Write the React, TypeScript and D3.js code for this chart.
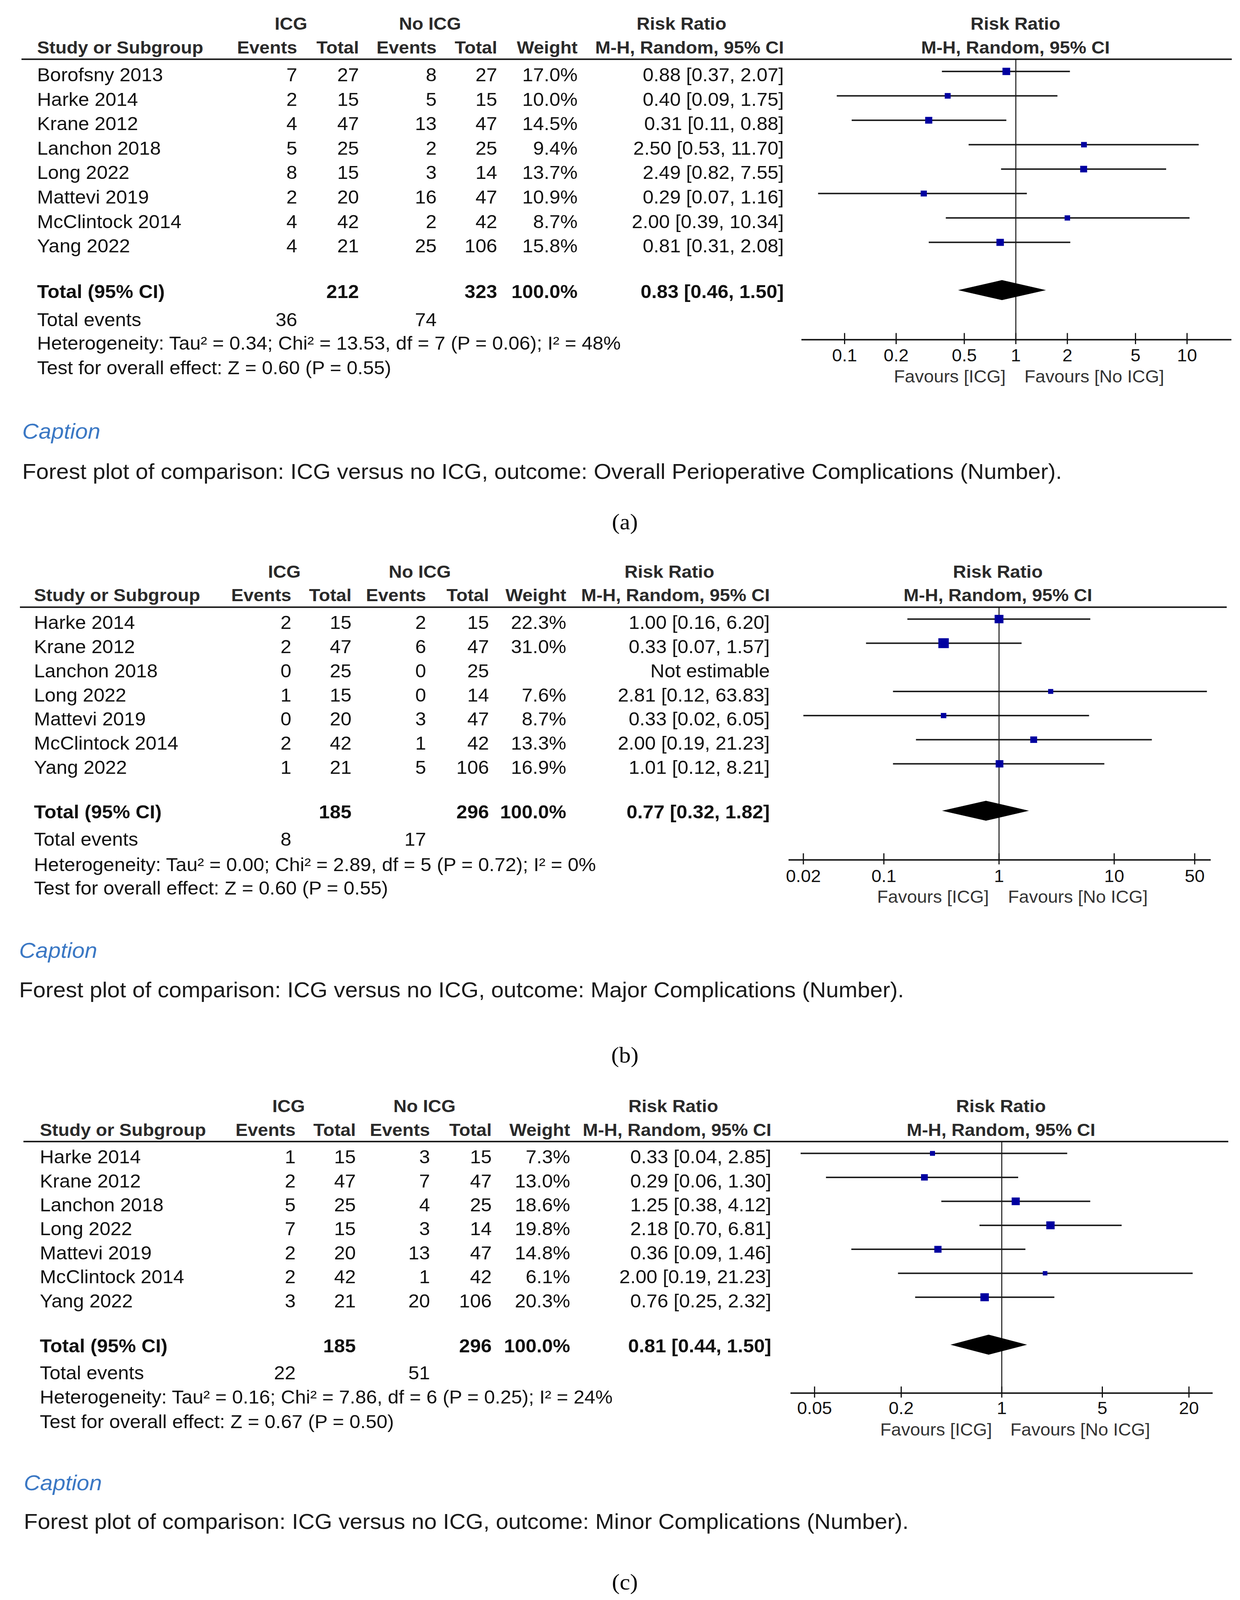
import React from 'react';
import * as d3 from 'd3';

// ---------- Panel (a): Overall perioperative complications ----------
const studiesA = ['Borofsny 2013', 'Harke 2014', 'Krane 2012', 'Lanchon 2018', 'Long 2022', 'Mattevi 2019', 'McClintock 2014', 'Yang 2022'];
const icgEventsA = [7, 2, 4, 5, 8, 2, 4, 4];
const icgTotalsA = [27, 15, 47, 25, 15, 20, 42, 21];
const noEventsA = [8, 5, 13, 2, 3, 16, 2, 25];
const noTotalsA = [27, 15, 47, 25, 14, 47, 42, 106];
const weightsA = [17.0, 10.0, 14.5, 9.4, 13.7, 10.9, 8.7, 15.8];
const rrA = [0.88, 0.40, 0.31, 2.50, 2.49, 0.29, 2.00, 0.81];
const lowA = [0.37, 0.09, 0.11, 0.53, 0.82, 0.07, 0.39, 0.31];
const highA = [2.07, 1.75, 0.88, 11.70, 7.55, 1.16, 10.34, 2.08];
const totalA = { icgTotal: 212, noTotal: 323, rr: 0.83, low: 0.46, high: 1.50, icgEvents: 36, noEvents: 74 };
const hetA = 'Heterogeneity: Tau² = 0.34; Chi² = 13.53, df = 7 (P = 0.06); I² = 48%';
const testA = 'Test for overall effect: Z = 0.60 (P = 0.55)';
const ticksA = [0.1, 0.2, 0.5, 1, 2, 5, 10];
const domainA = [0.1, 10];
const captionA = 'Forest plot of comparison: ICG versus no ICG, outcome: Overall Perioperative Complications (Number).';

// ---------- Panel (b): Major complications ----------
const studiesB = ['Harke 2014', 'Krane 2012', 'Lanchon 2018', 'Long 2022', 'Mattevi 2019', 'McClintock 2014', 'Yang 2022'];
const icgEventsB = [2, 2, 0, 1, 0, 2, 1];
const icgTotalsB = [15, 47, 25, 15, 20, 42, 21];
const noEventsB = [2, 6, 0, 0, 3, 1, 5];
const noTotalsB = [15, 47, 25, 14, 47, 42, 106];
const weightsB = [22.3, 31.0, null, 7.6, 8.7, 13.3, 16.9];
const rrB = [1.00, 0.33, null, 2.81, 0.33, 2.00, 1.01];
const lowB = [0.16, 0.07, null, 0.12, 0.02, 0.19, 0.12];
const highB = [6.20, 1.57, null, 63.83, 6.05, 21.23, 8.21];
const totalB = { icgTotal: 185, noTotal: 296, rr: 0.77, low: 0.32, high: 1.82, icgEvents: 8, noEvents: 17 };
const hetB = 'Heterogeneity: Tau² = 0.00; Chi² = 2.89, df = 5 (P = 0.72); I² = 0%';
const testB = 'Test for overall effect: Z = 0.60 (P = 0.55)';
const ticksB = [0.02, 0.1, 1, 10, 50];
const domainB = [0.02, 50];
const captionB = 'Forest plot of comparison: ICG versus no ICG, outcome: Major Complications (Number).';

// ---------- Panel (c): Minor complications ----------
const studiesC = ['Harke 2014', 'Krane 2012', 'Lanchon 2018', 'Long 2022', 'Mattevi 2019', 'McClintock 2014', 'Yang 2022'];
const icgEventsC = [1, 2, 5, 7, 2, 2, 3];
const icgTotalsC = [15, 47, 25, 15, 20, 42, 21];
const noEventsC = [3, 7, 4, 3, 13, 1, 20];
const noTotalsC = [15, 47, 25, 14, 47, 42, 106];
const weightsC = [7.3, 13.0, 18.6, 19.8, 14.8, 6.1, 20.3];
const rrC = [0.33, 0.29, 1.25, 2.18, 0.36, 2.00, 0.76];
const lowC = [0.04, 0.06, 0.38, 0.70, 0.09, 0.19, 0.25];
const highC = [2.85, 1.30, 4.12, 6.81, 1.46, 21.23, 2.32];
const totalC = { icgTotal: 185, noTotal: 296, rr: 0.81, low: 0.44, high: 1.50, icgEvents: 22, noEvents: 51 };
const hetC = 'Heterogeneity: Tau² = 0.16; Chi² = 7.86, df = 6 (P = 0.25); I² = 24%';
const testC = 'Test for overall effect: Z = 0.67 (P = 0.50)';
const ticksC = [0.05, 0.2, 1, 5, 20];
const domainC = [0.05, 20];
const captionC = 'Forest plot of comparison: ICG versus no ICG, outcome: Minor Complications (Number).';

const FONT = "'Liberation Sans', Arial, Helvetica, sans-serif";
const SERIF = "'Liberation Serif', 'Times New Roman', serif";
const HDR = '#2a2a2a';
const TXT = '#111';
const BLUE = '#0000a0';

const sizeScale = d3.scaleSqrt().domain([0, 100]).range([0, 48]);

function fmtCI(rr: number | null, lo: number | null, hi: number | null) {
  if (rr == null || lo == null || hi == null) return 'Not estimable';
  return `${rr.toFixed(2)} [${lo.toFixed(2)}, ${hi.toFixed(2)}]`;
}

function Panel({ d, L }: any) {
  const x = d3.scaleLog().domain(d.domain).range(L.range);
  const rowY = (i: number) => L.rowY0 + i * L.step;
  const fs = 50;
  const hf = 47;
  const cols = L.cols;
  const dy = L.totalY - 21;
  return (
    <g>
      <g fontFamily={FONT} fontWeight="bold" fontSize={hf} fill={HDR}>
        <text x={L.icgC} y={L.h1} textAnchor="middle">ICG</text>
        <text x={L.noC} y={L.h1} textAnchor="middle">No ICG</text>
        <text x={L.rrC} y={L.h1} textAnchor="middle">Risk Ratio</text>
        <text x={L.plotC} y={L.h1} textAnchor="middle">Risk Ratio</text>
        <text x={L.studyX} y={L.h2}>Study or Subgroup</text>
        <text x={cols[0]} y={L.h2} textAnchor="end">Events</text>
        <text x={cols[1]} y={L.h2} textAnchor="end">Total</text>
        <text x={cols[2]} y={L.h2} textAnchor="end">Events</text>
        <text x={cols[3]} y={L.h2} textAnchor="end">Total</text>
        <text x={cols[4]} y={L.h2} textAnchor="end">Weight</text>
        <text x={cols[5]} y={L.h2} textAnchor="end">M-H, Random, 95% CI</text>
        <text x={L.plotC} y={L.h2} textAnchor="middle">M-H, Random, 95% CI</text>
      </g>
      <line x1={L.ruleX0} x2={L.ruleX1} y1={L.ruleY} y2={L.ruleY} stroke="#111" strokeWidth={4} />
      <g fontFamily={FONT} fontSize={fs} fill={TXT}>
        {d.studies.map((s: string, i: number) => (
          <g key={s}>
            <text x={L.studyX} y={rowY(i)}>{s}</text>
            <text x={cols[0]} y={rowY(i)} textAnchor="end">{d.icgEvents[i]}</text>
            <text x={cols[1]} y={rowY(i)} textAnchor="end">{d.icgTotals[i]}</text>
            <text x={cols[2]} y={rowY(i)} textAnchor="end">{d.noEvents[i]}</text>
            <text x={cols[3]} y={rowY(i)} textAnchor="end">{d.noTotals[i]}</text>
            <text x={cols[4]} y={rowY(i)} textAnchor="end">{d.weights[i] == null ? '' : `${d.weights[i].toFixed(1)}%`}</text>
            <text x={cols[5]} y={rowY(i)} textAnchor="end">{fmtCI(d.rr[i], d.low[i], d.high[i])}</text>
          </g>
        ))}
        <g fontWeight="bold">
          <text x={L.studyX} y={L.totalY}>Total (95% CI)</text>
          <text x={cols[1]} y={L.totalY} textAnchor="end">{d.total.icgTotal}</text>
          <text x={cols[3]} y={L.totalY} textAnchor="end">{d.total.noTotal}</text>
          <text x={cols[4]} y={L.totalY} textAnchor="end">100.0%</text>
          <text x={cols[5]} y={L.totalY} textAnchor="end">{fmtCI(d.total.rr, d.total.low, d.total.high)}</text>
        </g>
        <text x={L.studyX} y={L.eventsY}>Total events</text>
        <text x={cols[0]} y={L.eventsY} textAnchor="end">{d.total.icgEvents}</text>
        <text x={cols[2]} y={L.eventsY} textAnchor="end">{d.total.noEvents}</text>
        <text x={L.studyX} y={L.hetY}>{d.het}</text>
        <text x={L.studyX} y={L.testY}>{d.test}</text>
      </g>
      <line x1={x(1)} x2={x(1)} y1={L.ruleY} y2={L.axisY} stroke="#111" strokeWidth={2.5} />
      {d.studies.map((s: string, i: number) => {
        if (d.rr[i] == null) return null;
        const y = rowY(i) - 27;
        const sz = sizeScale(d.weights[i]);
        return (
          <g key={'f' + s}>
            <line x1={x(d.low[i])} x2={x(d.high[i])} y1={y} y2={y} stroke="#1a1a1a" strokeWidth={4} />
            <rect x={x(d.rr[i]) - sz / 2} y={y - sz / 2} width={sz} height={sz} fill={BLUE} />
          </g>
        );
      })}
      <path
        d={`M${x(d.total.low)},${dy} L${x(d.total.rr)},${dy - 27} L${x(d.total.high)},${dy} L${x(d.total.rr)},${dy + 27} Z`}
        fill="#000"
      />
      <line x1={L.axisX0} x2={L.axisX1} y1={L.axisY} y2={L.axisY} stroke="#111" strokeWidth={4} />
      {d.ticks.map((t: number) => (
        <g key={'t' + t}>
          <line x1={x(t)} x2={x(t)} y1={L.axisY - 18} y2={L.axisY + 12} stroke="#111" strokeWidth={3} />
          <text x={x(t)} y={L.tickY} textAnchor="middle" fontFamily={FONT} fontSize={46} fill={TXT}>{String(t)}</text>
        </g>
      ))}
      <g fontFamily={FONT} fontSize={46} fill="#333">
        <text x={L.favL} y={L.favY} textAnchor="end">Favours [ICG]</text>
        <text x={L.favR} y={L.favY}>Favours [No ICG]</text>
      </g>
      <text x={L.capX} y={L.capY} fontFamily={FONT} fontStyle="italic" fontSize={58} fill="#3b78c4">Caption</text>
      <text x={L.capX} y={L.capTextY} fontFamily={FONT} fontSize={58} fill="#1a1a1a">{d.caption}</text>
      <text x={1600} y={L.labelY} textAnchor="middle" fontFamily={SERIF} fontSize={60} fill="#000">{d.label}</text>
    </g>
  );
}

const dataA = { studies: studiesA, icgEvents: icgEventsA, icgTotals: icgTotalsA, noEvents: noEventsA, noTotals: noTotalsA, weights: weightsA, rr: rrA, low: lowA, high: highA, total: totalA, het: hetA, test: testA, ticks: ticksA, domain: domainA, caption: captionA, label: '(a)' };
const dataB = { studies: studiesB, icgEvents: icgEventsB, icgTotals: icgTotalsB, noEvents: noEventsB, noTotals: noTotalsB, weights: weightsB, rr: rrB, low: lowB, high: highB, total: totalB, het: hetB, test: testB, ticks: ticksB, domain: domainB, caption: captionB, label: '(b)' };
const dataC = { studies: studiesC, icgEvents: icgEventsC, icgTotals: icgTotalsC, noEvents: noEventsC, noTotals: noTotalsC, weights: weightsC, rr: rrC, low: lowC, high: highC, total: totalC, het: hetC, test: testC, ticks: ticksC, domain: domainC, caption: captionC, label: '(c)' };

const layoutA = {
  h1: 80, h2: 145, ruleY: 160, ruleX0: 55, ruleX1: 3154, rowY0: 220, step: 66,
  totalY: 805, eventsY: 881, hetY: 945, testY: 1011, studyX: 95,
  cols: [761, 919, 1118, 1273, 1479, 2007], icgC: 745, noC: 1101, rrC: 1745, plotC: 2600,
  range: [2162.6, 3039.4], axisY: 918, axisX0: 2052, axisX1: 3153, tickY: 976,
  favY: 1033, favL: 2575, favR: 2623, capX: 57, capY: 1185, capTextY: 1294, labelY: 1430,
};
const layoutB = {
  h1: 1561, h2: 1625, ruleY: 1641, ruleX0: 51, ruleX1: 3141, rowY0: 1700, step: 65.2,
  totalY: 2212, eventsY: 2285, hetY: 2354, testY: 2417, studyX: 87,
  cols: [746, 900, 1091, 1252, 1450, 1971], icgC: 728, noC: 1075, rrC: 1714, plotC: 2555,
  range: [2057, 3059], axisY: 2324, axisX0: 2019, axisX1: 3100, tickY: 2384,
  favY: 2440, favL: 2532, favR: 2581, capX: 49, capY: 2589, capTextY: 2695, labelY: 2871,
};
const layoutC = {
  h1: 3006, h2: 3070, ruleY: 3085, ruleX0: 60, ruleX1: 3145, rowY0: 3144, step: 64.8,
  totalY: 3655, eventsY: 3728, hetY: 3793, testY: 3860, studyX: 102,
  cols: [757, 911, 1101, 1259, 1460, 1975], icgC: 739, noC: 1087, rrC: 1724, plotC: 2563,
  range: [2085.7, 3044.3], axisY: 3765, axisX0: 2024, axisX1: 3105, tickY: 3822,
  favY: 3880, favL: 2540, favR: 2587, capX: 61, capY: 4027, capTextY: 4132, labelY: 4296,
};

export default function App() {
  return (
    <svg
      viewBox="0 0 3175 4324"
      preserveAspectRatio="none"
      style={{ position: 'fixed', left: 0, top: 0, width: '100%', height: '100%', background: '#fff', display: 'block' }}
    >
      <rect x={0} y={0} width={3175} height={4324} fill="#fff" />
      <Panel d={dataA} L={layoutA} />
      <Panel d={dataB} L={layoutB} />
      <Panel d={dataC} L={layoutC} />
    </svg>
  );
}
